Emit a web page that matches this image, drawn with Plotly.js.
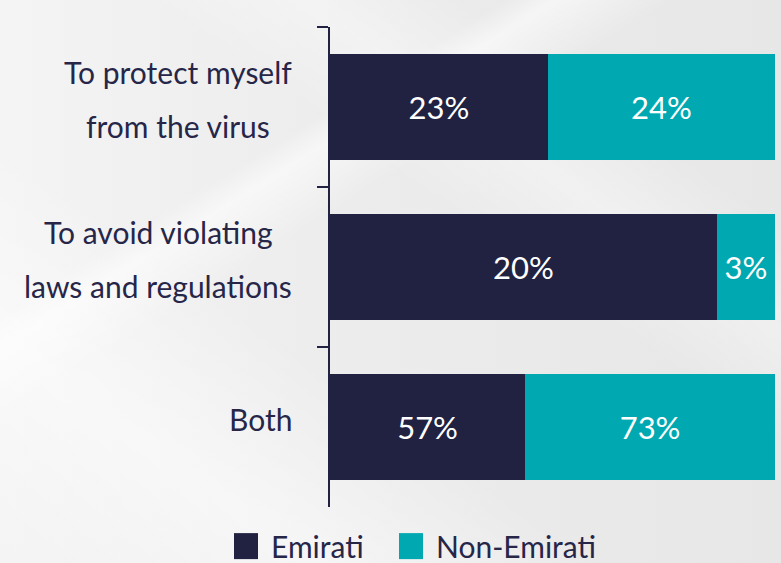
<!DOCTYPE html>
<html>
<head>
<meta charset="utf-8">
<script src="https://cdn.plot.ly/plotly-3.0.1.min.js"></script>
<style>
  html, body { margin: 0; padding: 0; }
  body {
    width: 781px; height: 563px; overflow: hidden;
    background:
      linear-gradient(148deg, rgba(255,255,255,0) 0%, rgba(255,255,255,0) 30%, rgba(255,255,255,0.55) 33%, rgba(255,255,255,0) 40%, rgba(255,255,255,0) 100%),
      linear-gradient(35deg, rgba(255,255,255,0) 0%, rgba(255,255,255,0.5) 20%, rgba(255,255,255,0) 38%, rgba(255,255,255,0) 60%, rgba(255,255,255,0.35) 70%, rgba(255,255,255,0) 80%),
      linear-gradient(to right, #f4f4f4 0%, #ececec 45%, #e7e7e7 100%);
  }
  #chart { width: 781px; height: 563px; }
</style>
</head>
<body>
<div id="chart"></div>
<script>
const categories = ["To protect myself from the virus", "To avoid violating laws and regulations", "Both"];
const categoryLines = [["To protect myself", "from the virus"], ["To avoid violating", "laws and regulations"], ["Both"]];
const emirati = [23, 20, 57];
const nonEmirati = [24, 3, 73];
const seriesNames = ["Emirati", "Non-Emirati"];

const NAVY = "#212142";
const TEAL = "#00a9b1";
const TEXT = "#262649";
const FONT = "Lato, 'Open Sans', sans-serif";
const ML = 330, MR = 6, MT = 27, MB = 56;
const labelRight = 292;
const labelSize = 30;
const lineGap = 54;

function mkBar(name, vals, color, legendId) {
  return {
    type: "bar", orientation: "h", name: name, legend: legendId,
    y: categories, x: vals,
    text: vals.map(v => v + "%"),
    texttemplate: "%{text}",
    textposition: "inside", insidetextanchor: "middle",
    constraintext: "none",
    textfont: { color: "#ffffff", size: 31, family: FONT },
    marker: { color: color, line: { width: 0 } },
    hoverinfo: "skip"
  };
}

const data = [
  mkBar(seriesNames[0], emirati, NAVY, "legend"),
  mkBar(seriesNames[1], nonEmirati, TEAL, "legend2")
];

// measure text for centered multi-line category labels
const cv = document.createElement("canvas").getContext("2d");
cv.font = labelSize + "px Lato";
const annotations = [];
categoryLines.forEach((lines, ci) => {
  const maxW = Math.max(...lines.map(l => cv.measureText(l).width));
  const center = labelRight - maxW / 2;
  lines.forEach((line, li) => {
    annotations.push({
      xref: "paper", x: 0, xanchor: "center", xshift: center - ML,
      yref: "y", y: categories[ci], yanchor: "middle",
      yshift: ((lines.length - 1) / 2 - li) * lineGap + 8,
      text: line, showarrow: false,
      font: { family: FONT, size: labelSize, color: TEXT }
    });
  });
});

function mkLegend(xpx) {
  return {
    orientation: "h", xref: "container", yref: "container",
    x: xpx / 781, xanchor: "left", y: 0.03, yanchor: "middle",
    font: { family: FONT, size: 30, color: TEXT },
    bgcolor: "rgba(0,0,0,0)", borderwidth: 0, itemclick: false
  };
}

const layout = {
  width: 781, height: 563,
  margin: { l: ML, r: MR, t: MT, b: MB, pad: 0 },
  paper_bgcolor: "rgba(0,0,0,0)",
  plot_bgcolor: "rgba(0,0,0,0)",
  barmode: "stack", barnorm: "percent", bargap: 0.34,
  font: { family: FONT, color: TEXT },
  xaxis: { range: [0, 100], visible: false, fixedrange: true },
  yaxis: {
    autorange: "reversed", showticklabels: false,
    showline: true, linecolor: NAVY, linewidth: 2,
    ticks: "outside", tickson: "boundaries", ticklen: 11, tickwidth: 2, tickcolor: NAVY,
    showgrid: false, zeroline: false, fixedrange: true
  },
  showlegend: true,
  legend: mkLegend(231),
  legend2: mkLegend(396),
  annotations: annotations
};

Plotly.newPlot("chart", data, layout, { staticPlot: true, displayModeBar: false }).then(gd => {
  gd.querySelectorAll(".legendpoints path").forEach(p => {
    p.setAttribute("d", "M7,13H-17V-13H7Z");
  });
});
</script>
</body>
</html>
